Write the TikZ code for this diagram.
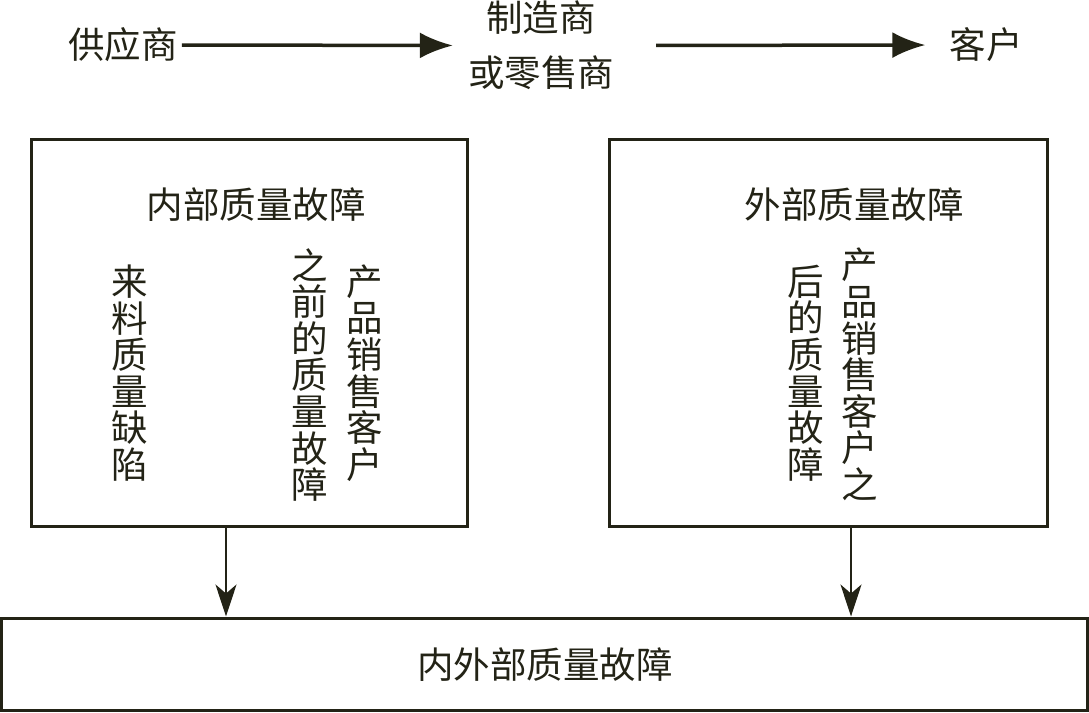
\documentclass[tikz,border=0pt]{standalone}
\usepackage{fontspec}
\newfontfamily\cjk{Noto Sans CJK SC}
\usetikzlibrary{arrows.meta}
\definecolor{ink}{RGB}{35,35,22}
\tikzset{
  lbl/.style={inner sep=0pt, text=ink, font=\cjk\fontsize{36.5}{36.6}\selectfont},
  vcol/.style={lbl, align=center},
  frame/.style={draw=ink, line width=3pt, minimum width=#1},
  toparr/.style={draw=ink, line width=3.5pt, -{Latex[length=33pt,width=26pt]}},
  botarr/.style={draw=ink, line width=2.5pt, -{Stealth[length=32pt,width=21pt,inset=9pt]}}
}
\begin{document}
\begin{tikzpicture}[x=1pt,y=-1pt]
\useasboundingbox (0,0) rectangle (1089,712);
% top chain
\node[lbl] (supplier) at (123,45) {供应商};
\node[lbl, align=center, font=\cjk\fontsize{36.5}{55}\selectfont] (maker) at (541,45.5) {制造商\\或零售商};
\node[lbl] (customer) at (986,45) {客户};
\draw[toparr, shorten <=4pt, shorten >=15pt] (supplier.east) -- (maker.west);
\draw[toparr, shorten <=42pt, shorten >=24pt] (maker.east) -- (customer.west);
% boxes
\node[frame=436pt, minimum height=387pt] (inner) at (249,332.5) {};
\node[frame=438pt, minimum height=387pt] (outer) at (828,332.5) {};
\node[frame=1086pt, minimum height=92pt] (total) at (544.5,664) {};
% inner box content
\node[lbl] (innertitle) at (256,205) {内部质量故障};
\node[vcol] (incoming) at (130,373) {来\\料\\质\\量\\缺\\陷};
\node[vcol] (before) at (310,375) {之\\前\\的\\质\\量\\故\\障};
\node[vcol] (prodA) at (365,373) {产\\品\\销\\售\\客\\户};
% outer box content
\node[lbl] (outertitle) at (854,205) {外部质量故障};
\node[vcol] (after) at (806,373) {后\\的\\质\\量\\故\\障};
\node[vcol] (prodB) at (860,374.5) {产\\品\\销\\售\\客\\户\\之};
% bottom
\node[lbl] (totaltitle) at (545,665) {内外部质量故障};
\coordinate (la) at ([xshift=-23pt]inner.south);
\coordinate (ra) at ([xshift=23pt]outer.south);
\draw[botarr] (la) -- (la |- total.north);
\draw[botarr] (ra) -- (ra |- total.north);
\end{tikzpicture}
\end{document}
